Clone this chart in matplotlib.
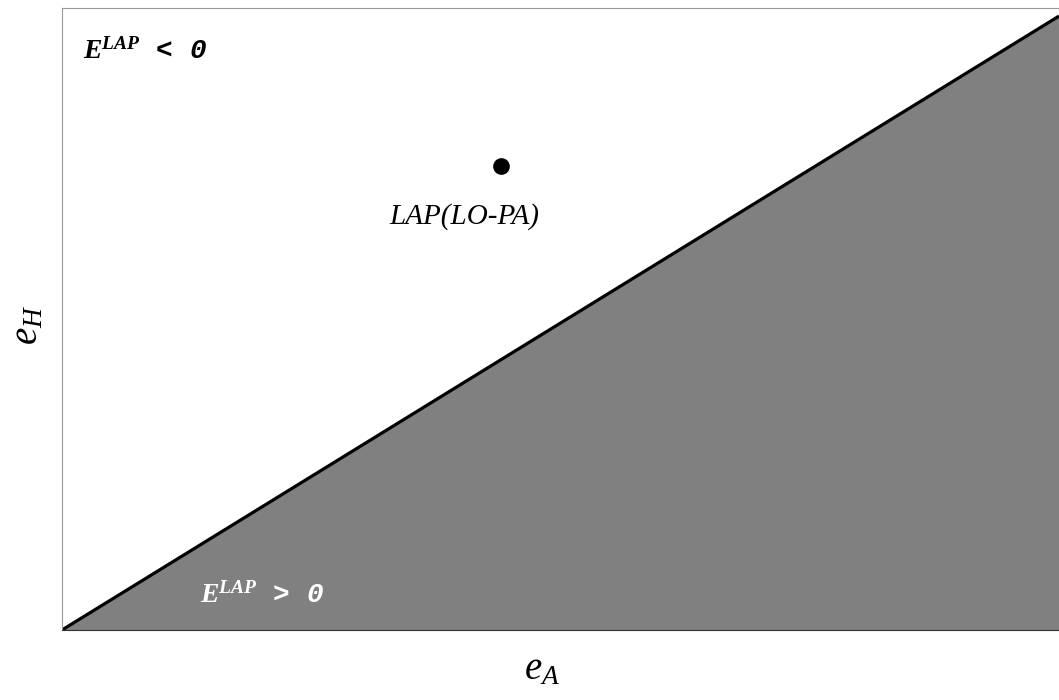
#!/usr/bin/env python3
import numpy as np
import matplotlib
matplotlib.use("Agg")
import matplotlib.pyplot as plt

plt.rcParams.update({
    "font.family": "Liberation Serif",
    "mathtext.fontset": "custom",
    "mathtext.rm": "Liberation Serif",
    "mathtext.it": "Liberation Serif:italic",
    "mathtext.bf": "Liberation Serif:bold",
    "mathtext.bfit": "Liberation Serif:bold:italic",
})

# boundary E^LAP = 0 : e_H = SLOPE * e_A
SLOPE = 0.987
X_RANGE = [0.0, 1.0]
POINT_X, POINT_Y = [0.440], [0.746]
POINT_LABEL = "LAP(LO-PA)"

fig = plt.figure(figsize=(10.59, 7.0), dpi=100)
ax = fig.add_axes([62 / 1059, 70 / 700, 1 - 62 / 1059, 622 / 700])

xs = np.array(X_RANGE)
ax.fill_between(xs, 0, SLOPE * xs, color="#808080", lw=0)
ax.plot(xs, SLOPE * xs, color="black", lw=2.3, solid_capstyle="butt")
ax.plot(POINT_X, POINT_Y, "o", color="black", ms=11)
ax.text(POINT_X[0] - 0.036, POINT_Y[0] - 0.082, POINT_LABEL, ha="center", va="center",
        fontsize=21, style="italic", family="Liberation Serif")

mono = dict(fontsize=20, family="Liberation Mono", weight="bold", style="italic", va="center")
ax.text(0.021, 0.93, r"$\mathbfit{E}^{\mathbfit{LAP}}$ < 0", **mono)
ax.text(0.138, 0.055, r"$\mathbfit{E}^{\mathbfit{LAP}}$ > 0", color="white", **mono)

ax.set_xlim(0, 1)
ax.set_ylim(0, 1)
ax.set_xticks([])
ax.set_yticks([])
for s in ("top", "left"):
    ax.spines[s].set_color("#9a9a9a")
ax.spines["right"].set_visible(False)
ax.spines["bottom"].set_color("#333333")

fig.text(542 / 1059, 1 - 670 / 700, r"$e_A$", fontsize=28, ha="center", va="center")
fig.text(28 / 1059, 1 - 325 / 700, r"$e_H$", fontsize=28, ha="center", va="center",
         rotation=90)

fig.savefig("out.png", dpi=100)
